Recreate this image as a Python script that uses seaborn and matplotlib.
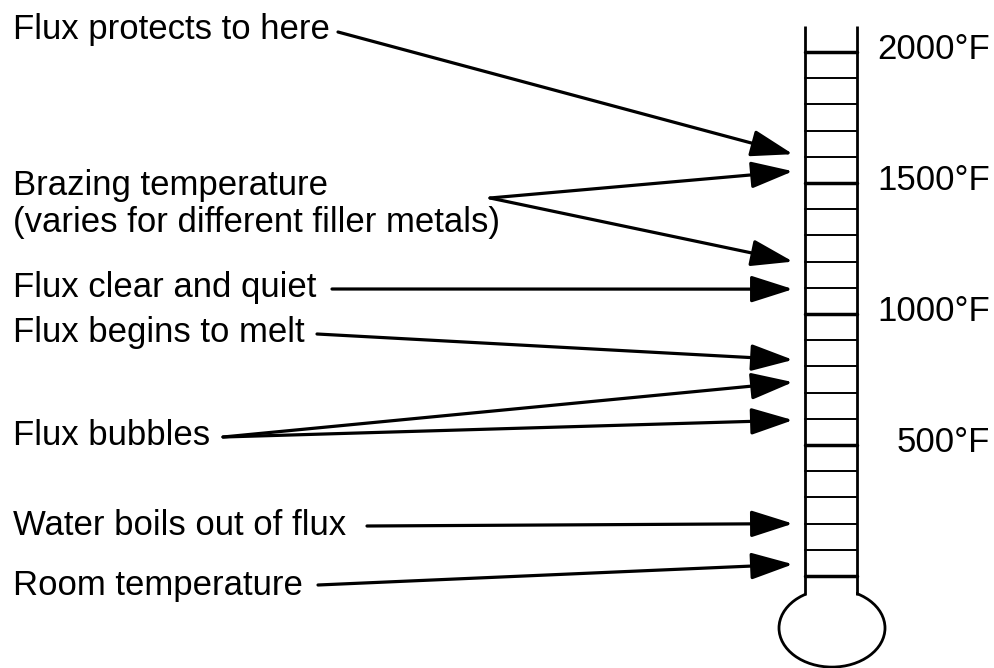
import matplotlib

matplotlib.use("Agg")
import matplotlib.pyplot as plt
import pandas as pd
import seaborn as sns
from matplotlib.patches import Ellipse, Rectangle

# figure in pixels; y axis of the drawing is in degrees F
FIG_W, FIG_H = 995, 668
Y_LIMITS = (-351, 2198.5)

# thermometer scale
TICK_TEMPS = list(range(0, 2001, 100))
MAJOR_TEMPS = [2000, 1500, 1000, 500]
MAJOR_LABELS = ["2000°F", "1500°F", "1000°F", "500°F"]

# callouts: label lines and the temperature(s) each one points to
CALLOUT_LINES = [
    ["Flux protects to here"],
    ["Brazing temperature", "(varies for different filler metals)"],
    ["Flux clear and quiet"],
    ["Flux begins to melt"],
    ["Flux bubbles"],
    ["Water boils out of flux"],
    ["Room temperature"],
]
CALLOUT_TEMPS = [
    [1610],
    [1545, 1200],
    [1095],
    [825],
    [740, 595],
    [200],
    [45],
]

# layout (pixels from top-left of the figure)
LABEL_X = 13
LABEL_BASELINES = [39, 195, 297, 342, 445, 535, 595]
LINE_GAP = 37
LINE_STARTS = [(338, 32), (490, 198), (332, 289), (317, 334), (223, 437), (367, 526), (318, 585)]
TIP_X = 793
TUBE_LEFT, TUBE_RIGHT = 805, 857
TUBE_TEMPS = (-72, 2100)
BULB_X, BULB_W = 832, 106
BULB_T, BULB_H = -198.5, 298

FONT = ["Liberation Sans", "DejaVu Sans"]
FONT_SIZE = 25


def fig_frac(x, y):
    return x / FIG_W, 1 - y / FIG_H


def main() -> None:
    sns.set_theme(style="white")
    plt.rcParams["font.family"] = FONT

    fig = plt.figure(figsize=(FIG_W / 100, FIG_H / 100), dpi=100)
    ax = fig.add_axes([0, 0, 1, 1])
    ax.set_xlim(0, FIG_W)
    ax.set_ylim(*Y_LIMITS)
    ax.axis("off")

    # bulb, opened at the top where the tube joins it
    ax.add_patch(Ellipse((BULB_X, BULB_T), BULB_W, BULB_H, facecolor="white",
                         edgecolor="black", lw=2.0, zorder=2))
    ax.add_patch(Rectangle((TUBE_LEFT + 1, -92), TUBE_RIGHT - TUBE_LEFT - 2, 65,
                           facecolor="white", edgecolor="none", zorder=3))
    ax.vlines([TUBE_LEFT, TUBE_RIGHT], *TUBE_TEMPS, color="black", lw=2.0, zorder=4)

    # scale ticks across the tube
    ticks = pd.DataFrame(
        [
            {"tick": t, "x": x, "temp": t, "kind": "major" if t % 500 == 0 else "minor"}
            for t in TICK_TEMPS
            for x in (TUBE_LEFT, TUBE_RIGHT)
        ]
    )
    sns.lineplot(
        data=ticks, x="x", y="temp", units="tick", estimator=None,
        hue="kind", palette={"major": "black", "minor": "black"},
        size="kind", sizes={"major": 2.5, "minor": 1.4},
        legend=False, sort=False, ax=ax, zorder=4,
    )

    for temp, label in zip(MAJOR_TEMPS, MAJOR_LABELS):
        ax.text(990, temp + 11, label, ha="right", va="center", fontsize=FONT_SIZE, color="black")

    # callout labels and arrows
    for lines, temps, base, start in zip(CALLOUT_LINES, CALLOUT_TEMPS, LABEL_BASELINES, LINE_STARTS):
        for i, line in enumerate(lines):
            fig.text(*fig_frac(LABEL_X, base + i * LINE_GAP), line, ha="left",
                     va="baseline", fontsize=FONT_SIZE, color="black")
        for temp in temps:
            ax.annotate(
                "", xy=(TIP_X, temp), xycoords="data",
                xytext=fig_frac(*start), textcoords="figure fraction",
                arrowprops=dict(arrowstyle="-|>,head_length=26,head_width=8.3",
                                mutation_scale=1, lw=2.3, color="black",
                                shrinkA=0, shrinkB=0),
            )

    fig.savefig("out.png", dpi=100, facecolor="white")
    plt.close(fig)


if __name__ == "__main__":
    main()
